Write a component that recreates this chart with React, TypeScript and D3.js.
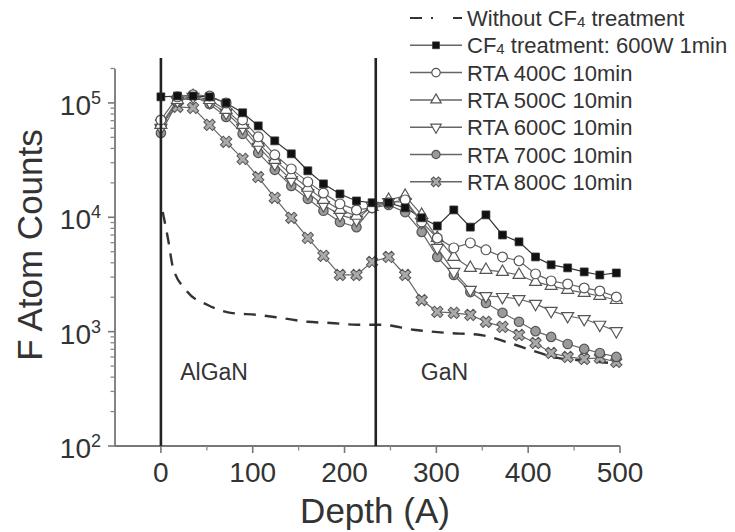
import React from 'react';
import * as d3 from 'd3';

// Depth sampling (Angstrom) shared by marker series
const depths = [0, 18, 35, 53, 71, 89, 106, 124, 142, 160, 177, 195, 213, 230, 248, 266, 284, 301, 319, 337, 354, 372, 390, 408, 425, 443, 461, 478, 496];

const cf4600W = [113000, 115000, 115000, 113000, 100000, 82000, 63000, 46600, 35900, 25500, 19600, 16000, 13900, 13400, 13400, 12100, 9900, 8400, 11600, 8200, 10500, 7000, 6100, 4500, 3840, 3610, 3330, 3130, 3260];
const rta400 = [71000, 113000, 118000, 115000, 100000, 71000, 50500, 35200, 26500, 20400, 16300, 13100, 11600, 12100, 13400, 14200, 9100, 6600, 5400, 5970, 5190, 4500, 4160, 3200, 2780, 2610, 2410, 2270, 2010];
const rta500 = [64300, 106000, 115000, 106000, 87000, 64300, 44800, 31800, 23500, 18100, 14200, 11600, 10300, 12300, 14200, 15400, 10500, 6600, 4500, 3610, 3470, 3330, 3130, 2720, 2510, 2320, 2180, 2050, 1890];
const rta600 = [60500, 104000, 113000, 102000, 82000, 60500, 41300, 29300, 21200, 16300, 12800, 10500, 9500, 12600, 13600, 13600, 9100, 5400, 3330, 2320, 2050, 2010, 1930, 1750, 1520, 1370, 1290, 1150, 1010];
const rta700 = [54700, 102000, 115000, 98000, 75500, 53700, 36600, 26000, 18800, 14500, 11400, 9100, 8200, 12100, 12800, 11100, 7450, 4500, 3130, 2220, 1780, 1460, 1220, 1010, 899, 780, 706, 651, 601];
const rta800 = [67000, 92500, 90600, 64300, 45700, 32400, 22500, 14800, 9900, 6600, 4600, 3130, 3130, 4070, 4500, 3130, 1890, 1490, 1460, 1400, 1220, 1100, 935, 796, 651, 601, 577, 589, 543];

const noCf4Depths = [2, 8, 13, 27, 51, 76, 105, 130, 160, 185, 214, 239, 275, 312, 348, 380, 410, 432, 453, 478, 497];
const noCf4Counts = [11100, 6300, 3680, 2320, 1710, 1460, 1400, 1320, 1220, 1190, 1150, 1150, 1040, 975, 935, 794, 661, 589, 565, 543, 525];

const xTicks = [0, 100, 200, 300, 400, 500];
const xMinorTicks = [50, 150, 250, 350, 450];
const yExps = [2, 3, 4, 5];
const layerLines = [0, 234];
const layerLabels = ['AlGaN', 'GaN'];
const layerLabelDepth = [21, 283];

type Marker = 'square' | 'circle' | 'triangle' | 'triangleDown' | 'dot' | 'star';

const series: { name: string; values: number[]; marker: Marker }[] = [
  { name: 'cf4', values: cf4600W, marker: 'square' },
  { name: 'rta400', values: rta400, marker: 'circle' },
  { name: 'rta500', values: rta500, marker: 'triangle' },
  { name: 'rta600', values: rta600, marker: 'triangleDown' },
  { name: 'rta700', values: rta700, marker: 'dot' },
  { name: 'rta800', values: rta800, marker: 'star' },
];

const legendItems: { marker: Marker | 'dash'; parts: { t: string; sub?: boolean }[] }[] = [
  { marker: 'dash', parts: [{ t: 'Without CF' }, { t: '4', sub: true }, { t: ' treatment' }] },
  { marker: 'square', parts: [{ t: 'CF' }, { t: '4', sub: true }, { t: ' treatment: 600W 1min' }] },
  { marker: 'circle', parts: [{ t: 'RTA 400C 10min' }] },
  { marker: 'triangle', parts: [{ t: 'RTA 500C 10min' }] },
  { marker: 'triangleDown', parts: [{ t: 'RTA 600C 10min' }] },
  { marker: 'dot', parts: [{ t: 'RTA 700C 10min' }] },
  { marker: 'star', parts: [{ t: 'RTA 800C 10min' }] },
];

const FONT = '"Liberation Sans", Arial, Helvetica, sans-serif';

function MarkerShape({ m, x, y, legend }: { m: Marker; x: number; y: number; legend?: boolean }) {
  const k = legend ? 0.75 : 1;
  switch (m) {
    case 'square':
      return <path d={d3.symbol().type(d3.symbolSquare).size(62 * k)()!} transform={`translate(${x},${y})`} fill="#111" stroke="#333" strokeWidth={0.8} />;
    case 'circle':
      return <path d={d3.symbol().type(d3.symbolCircle).size(75 * k)()!} transform={`translate(${x},${y})`} fill="#fff" stroke="#555" strokeWidth={1.2} />;
    case 'triangle':
      return <path d={d3.symbol().type(d3.symbolTriangle).size(62 * k)()!} transform={`translate(${x},${y})`} fill="#fff" stroke="#555" strokeWidth={1.2} />;
    case 'triangleDown':
      return <path d={d3.symbol().type(d3.symbolTriangle).size(62 * k)()!} transform={`translate(${x},${y}) rotate(180)`} fill="#fff" stroke="#555" strokeWidth={1.2} />;
    case 'dot':
      return <path d={d3.symbol().type(d3.symbolCircle).size(70 * k)()!} transform={`translate(${x},${y})`} fill="#9a9a9a" stroke="#555" strokeWidth={1.2} />;
    case 'star':
      return <path d={d3.symbol().type(d3.symbolCross).size(80 * k)()!} transform={`translate(${x},${y}) rotate(45)`} fill="#aaa" stroke="#555" strokeWidth={1} />;
  }
}

export default function App() {
  const W = 735;
  const H = 532;
  const left = 115, right = 620, top = 69, bottom = 446;

  const x = d3.scaleLinear().domain([-50, 500]).range([left, right]);
  const y = d3.scaleLog().domain([100, 198000]).range([bottom, top]);

  const line = d3.line<[number, number]>().x(d => x(d[0])).y(d => y(d[1]));
  const smooth = d3.line<[number, number]>().x(d => x(d[0])).y(d => y(d[1])).curve(d3.curveMonotoneX);

  const yMinor: number[] = [];
  yExps.slice(0, 3).forEach(e => {
    for (let k = 2; k <= 9; k++) yMinor.push(k * Math.pow(10, e));
  });
  yMinor.push(2e5);

  const legTop = 18;
  const legStep = 27.3;

  return (
    <svg width={W} height={H} style={{ position: 'absolute', left: 0, top: 0, background: '#fff' }} fontFamily={FONT}>
      <rect x={0} y={0} width={W} height={H} fill="#fff" />

      {/* axes */}
      <line x1={left} x2={left} y1={top} y2={bottom} stroke="#777" strokeWidth={1.8} />
      <line x1={left} x2={right} y1={bottom} y2={bottom} stroke="#777" strokeWidth={1.8} />
      {yExps.map(e => (
        <line key={'ym' + e} x1={left - 7} x2={left} y1={y(Math.pow(10, e))} y2={y(Math.pow(10, e))} stroke="#777" strokeWidth={1.6} />
      ))}
      {yMinor.map(v => (
        <line key={'yn' + v} x1={left - 4.5} x2={left} y1={y(v)} y2={y(v)} stroke="#888" strokeWidth={1.3} />
      ))}
      {xTicks.map(t => (
        <line key={'xm' + t} x1={x(t)} x2={x(t)} y1={bottom} y2={bottom + 7} stroke="#777" strokeWidth={1.6} />
      ))}
      {xMinorTicks.map(t => (
        <line key={'xn' + t} x1={x(t)} x2={x(t)} y1={bottom} y2={bottom + 4.5} stroke="#888" strokeWidth={1.3} />
      ))}

      {/* tick labels */}
      {xTicks.map(t => (
        <text key={'xl' + t} x={x(t)} y={482} textAnchor="middle" fontSize={28} fill="#333">{t}</text>
      ))}
      {yExps.map(e => (
        <text key={'yl' + e} x={101} y={y(Math.pow(10, e)) + 12} textAnchor="end" fontSize={28} fill="#333">
          <tspan>10</tspan>
          <tspan dy={-11} fontSize={18}>{e}</tspan>
        </text>
      ))}

      {/* axis titles */}
      <text x={375} y={523} textAnchor="middle" fontSize={35} fill="#333">Depth (A)</text>
      <text transform={`translate(42,245) rotate(-90)`} textAnchor="middle" fontSize={35} fill="#333">F Atom Counts</text>

      {/* without CF4 dashed */}
      <path d={smooth(noCf4Depths.map((d, i) => [d, noCf4Counts[i]] as [number, number]))!} fill="none" stroke="#333" strokeWidth={2.4} strokeDasharray="12,9" />

      {/* marker series lines */}
      {series.map(s => (
        <path key={'l' + s.name} d={line(depths.map((d, i) => [d, s.values[i]] as [number, number]))!} fill="none" stroke={s.marker === 'square' ? '#333' : '#666'} strokeWidth={1.2} />
      ))}
      {/* markers */}
      {series.slice().reverse().map(s => (
        <g key={'m' + s.name}>
          {depths.map((d, i) => (
            <MarkerShape key={i} m={s.marker} x={x(d)} y={y(s.values[i])} />
          ))}
        </g>
      ))}

      {/* layer boundaries */}
      {layerLines.map(d => (
        <line key={'v' + d} x1={x(d)} x2={x(d)} y1={58} y2={bottom} stroke="#222" strokeWidth={2.6} />
      ))}
      {layerLabels.map((l, i) => (
        <text key={l} x={x(layerLabelDepth[i])} y={380} fontSize={23} fill="#333">{l}</text>
      ))}

      {/* legend */}
      {legendItems.map((it, i) => {
        const cy = legTop + i * legStep;
        return (
          <g key={'leg' + i}>
            {it.marker === 'dash' ? (
              <line x1={410} x2={462} y1={cy} y2={cy} stroke="#333" strokeWidth={2.2} strokeDasharray="12,9,2,20" />
            ) : (
              <>
                <line x1={410} x2={462} y1={cy} y2={cy} stroke="#666" strokeWidth={1.5} />
                <MarkerShape m={it.marker as Marker} x={436} y={cy} legend />
              </>
            )}
            <text x={467} y={cy + 8} fontSize={22} fill="#333">
              {it.parts.map((p, j) => (
                <tspan key={j} fontSize={p.sub ? 15 : 22} dy={p.sub ? 1 : (j > 0 && it.parts[j - 1].sub ? -1 : 0)}>{p.t}</tspan>
              ))}
            </text>
          </g>
        );
      })}
    </svg>
  );
}
